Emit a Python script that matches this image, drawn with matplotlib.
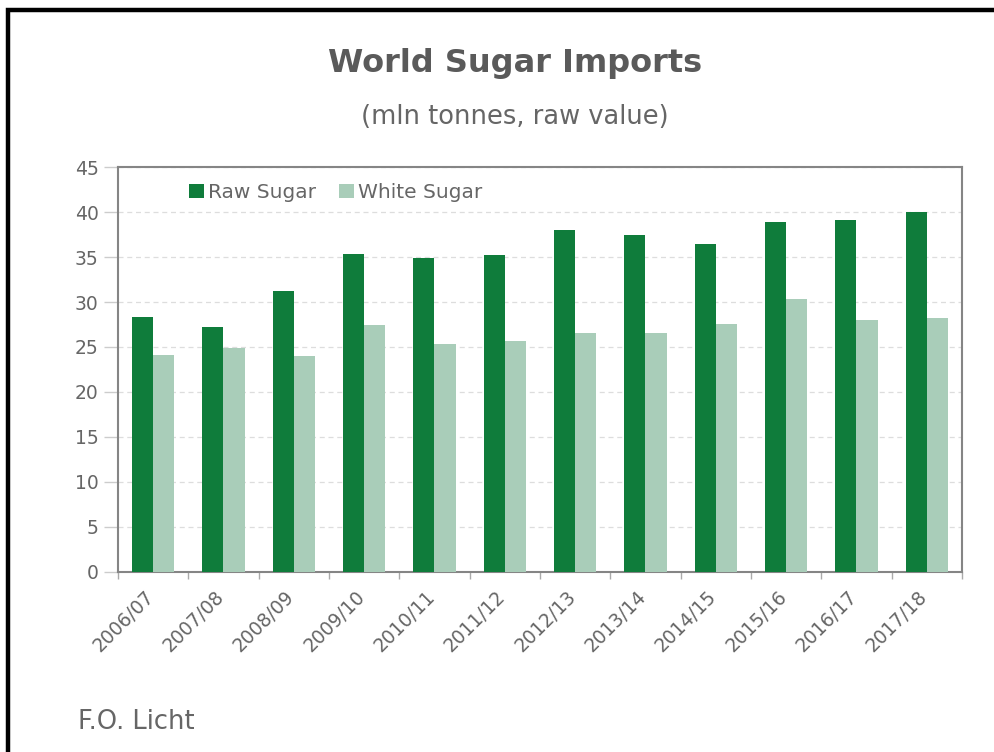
import numpy as np
import matplotlib
matplotlib.use("Agg")
import matplotlib.pyplot as plt
import matplotlib.transforms as mtransforms
from matplotlib.patches import Rectangle

# data (mln tonnes, raw value)
seasons = ["2006/07", "2007/08", "2008/09", "2009/10", "2010/11", "2011/12",
           "2012/13", "2013/14", "2014/15", "2015/16", "2016/17", "2017/18"]
raw_sugar = [28.3, 27.2, 31.2, 35.3, 34.9, 35.2, 38.0, 37.4, 36.4, 38.9, 39.1, 40.0]
white_sugar = [24.1, 24.9, 24.0, 27.5, 25.3, 25.7, 26.5, 26.6, 27.6, 30.3, 28.0, 28.2]

raw_color = "#0f7c3b"
white_color = "#a9cdb9"
text_color = "#666666"
frame_color = "#858585"

fig = plt.figure(figsize=(9.94, 7.52), dpi=100)
ax = fig.add_axes([0.1187, 0.2394, 0.849, 0.5385])

x = np.arange(len(seasons))
w = 0.30
ax.bar(x - w / 2, raw_sugar, width=w, color=raw_color, label="Raw Sugar", zorder=3)
ax.bar(x + w / 2, white_sugar, width=w, color=white_color, label="White Sugar", zorder=3)

ax.set_xlim(-0.5, len(seasons) - 0.5)
ax.set_ylim(0, 45)
ax.set_yticks(range(0, 46, 5))
ax.yaxis.grid(True, linestyle=(0, (4, 3)), color="#dddddd", linewidth=0.9, zorder=0)

# ticks at category boundaries, labels at centres
ax.set_xticks(np.arange(-0.5, len(seasons)), minor=False)
ax.set_xticklabels([])
ax.set_xticks(x, minor=True)
ax.set_xticklabels(seasons, minor=True, rotation=45, ha="right",
                   rotation_mode="anchor", fontsize=13.5, color=text_color)
ax.tick_params(axis="x", which="minor", length=0, pad=11)
ax.tick_params(axis="x", which="major", length=5, color="#aaaaaa", width=1)
ax.tick_params(axis="y", length=10, color="#cccccc", width=1, labelsize=13.5,
               labelcolor=text_color, pad=4)

# nudge the rotated labels so their ends sit at the category centres
shift = mtransforms.ScaledTranslation(-9 / 100, 0, fig.dpi_scale_trans)
for lbl in ax.get_xticklabels(minor=True):
    lbl.set_transform(lbl.get_transform() + shift)

for s in ax.spines.values():
    s.set_color(frame_color)
    s.set_linewidth(1.5)

leg = ax.legend(loc="upper left", bbox_to_anchor=(0.063, 1.005), ncol=2, frameon=False,
                fontsize=14.5, handlelength=0.75, handleheight=0.75, handletextpad=0.2,
                columnspacing=1.1, labelcolor=text_color)

fig.text(0.518, 0.916, "World Sugar Imports", ha="center", va="center",
         fontsize=23, fontweight="bold", color="#5a5a5a")
fig.text(0.518, 0.845, "(mln tonnes, raw value)", ha="center", va="center",
         fontsize=18.5, color=text_color)
fig.text(0.078, 0.04, "F.O. Licht", ha="left", va="center",
         fontsize=18.5, color=text_color)

# black outer border along top and left edges
fig.patches.append(Rectangle((8 / 994, -0.1), 1.2, (752 - 8) / 752 + 0.1 - 0.002,
                             transform=fig.transFigure, fill=False,
                             edgecolor="black", linewidth=3.2))

fig.savefig("out.png", dpi=100)
